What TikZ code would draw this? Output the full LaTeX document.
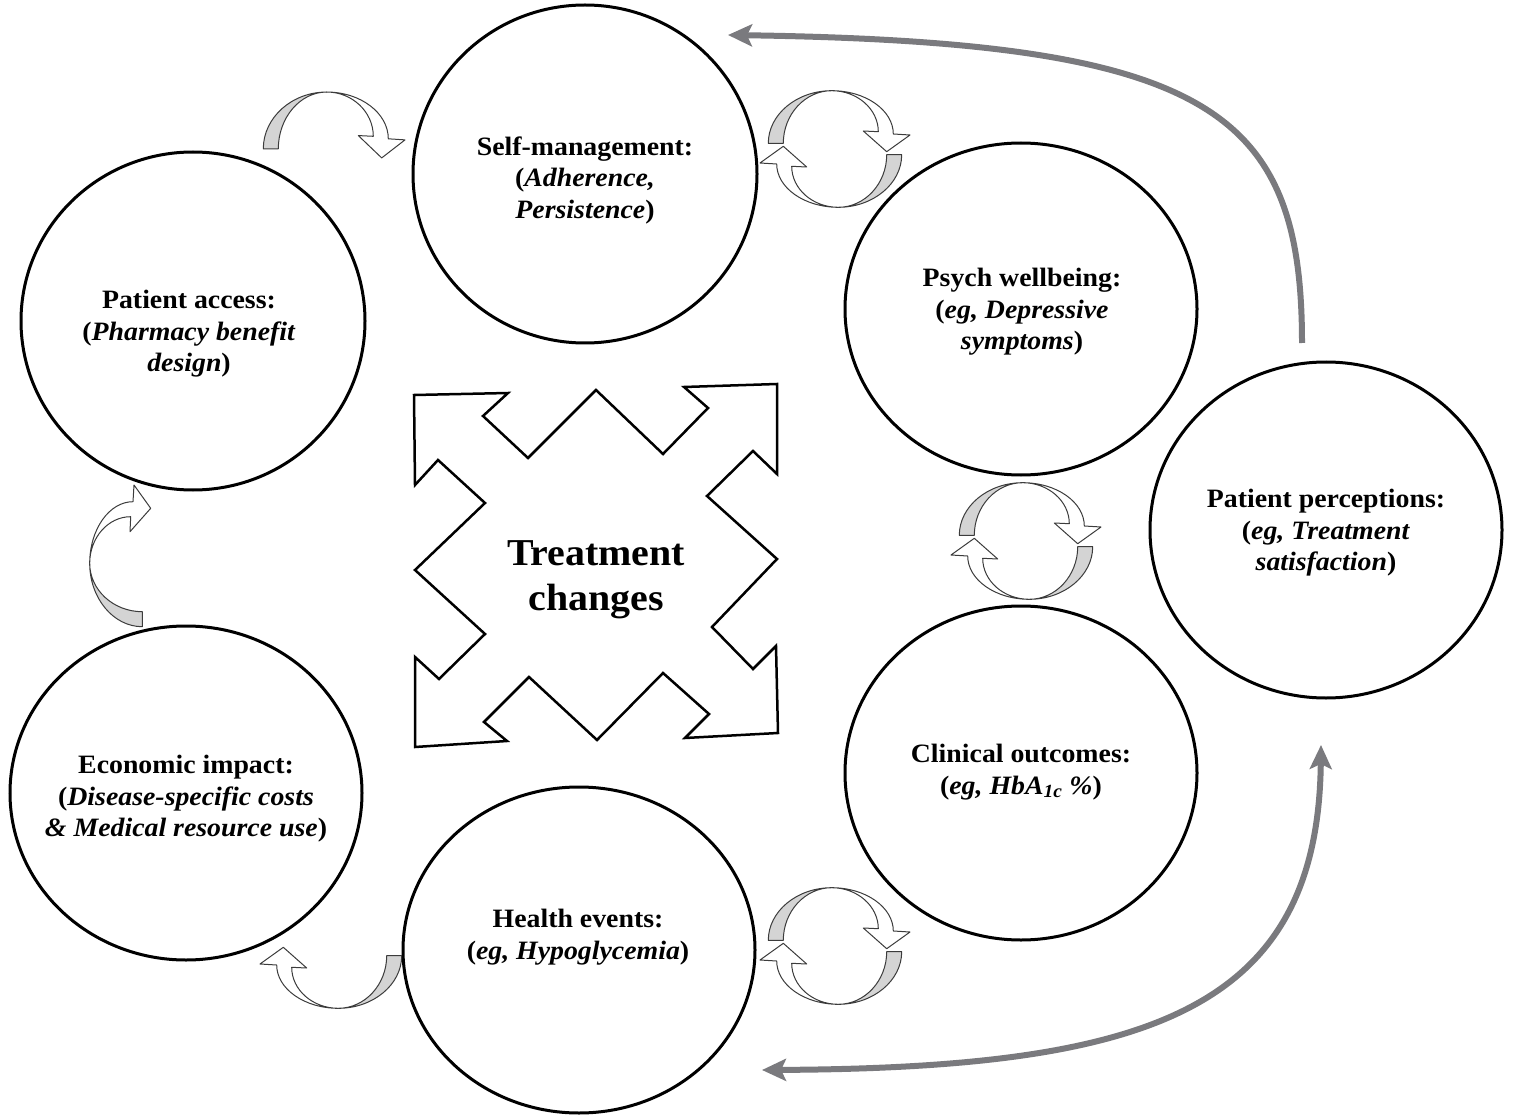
\documentclass[tikz,border=0pt]{standalone}
\usepackage{fontspec}
\setmainfont{Liberation Serif}[FakeStretch=1.05]
\usetikzlibrary{shapes.geometric,arrows.meta}
\definecolor{ribgray}{RGB}{212,212,212}
\definecolor{ribline}{RGB}{60,60,60}
\definecolor{bigarrow}{RGB}{122,122,126}
\newcommand{\bi}[1]{\textbf{\textit{#1}}}
\tikzset{
  circ/.style={ellipse, draw=black, line width=3pt, inner sep=0pt},
  lbl/.style={align=center, font=\fontsize{26.5}{31.5}\selectfont\bfseries, inner sep=0pt},
  big/.style={align=center, font=\fontsize{38}{45}\selectfont\bfseries, inner sep=0pt},
  rib/.style={draw=ribline, line width=1pt, line join=round},
  garrow/.style={draw=bigarrow, line width=6pt},
  twist/.pic={
    \draw[rib, fill=ribgray] (-66.7,-5.7) .. controls (-66.7,-34.6) and (-38.2,-58.3) .. (-3.3,-58.3)
       .. controls (-29.9,-58.3) and (-51.7,-34.6) .. (-51.7,-5.7) -- cycle;
    \draw[rib, fill=white] (-3.3,-58.3) .. controls (30.6,-58.3) and (58.3,-38.8) .. (58.3,-15)
       -- (75,-14) -- (51.7,2.7) -- (28.3,-18) -- (43.3,-17.3)
       .. controls (43.3,-39.9) and (22.3,-58.3) .. (-3.3,-58.3) -- cycle;
  }
}
\begin{document}
\begin{tikzpicture}[x=1pt,y=-1pt]
\useasboundingbox (0,0) rectangle (1513,1115);

% big gray connectors
\coordinate (gs) at (1302,343);
\coordinate (ge) at (728,35);
\draw[garrow, -{Stealth[length=24pt,width=22pt,inset=5pt]}] (gs) .. controls (1302,110) and (1210,42) .. (ge);
\coordinate (hs) at (762,1070);
\coordinate (he) at (1321,745);
\draw[garrow, {Stealth[length=24pt,width=22pt,inset=5pt]}-{Stealth[length=24pt,width=22pt,inset=5pt]}] (hs) .. controls (1150,1068) and (1318,1010) .. (he);

% ellipses
\node[circ, minimum width=344pt, minimum height=338pt] (self) at (585,174) {};
\node[circ, minimum width=344pt, minimum height=338pt] (access) at (193,321) {};
\node[circ, minimum width=352pt, minimum height=332pt] (psych) at (1021,309) {};
\node[circ, minimum width=352pt, minimum height=336pt] (perc) at (1326,530) {};
\node[circ, minimum width=352pt, minimum height=334pt] (clin) at (1021,773) {};
\node[circ, minimum width=352pt, minimum height=326pt] (health) at (579,950) {};
\node[circ, minimum width=352pt, minimum height=334pt] (econ) at (186,793) {};

% labels
\node[lbl] (selfT) at (585,180) {Self-management:\\(\bi{Adherence,}\\\bi{Persistence})};
\node[lbl] (accessT) at (189,334) {Patient access:\\(\bi{Pharmacy benefit}\\\bi{design})};
\node[lbl] (psychT) at (1022,312) {Psych wellbeing:\\(\bi{eg, Depressive}\\\bi{symptoms})};
\node[lbl] (percT) at (1326,533) {Patient perceptions:\\(\bi{eg, Treatment}\\\bi{satisfaction})};
\node[lbl] (clinT) at (1021,772) {Clinical outcomes:\\(\bi{eg, HbA\textsubscript{1c} \%})};
\node[lbl] (healthT) at (578,937) {Health events:\\(\bi{eg, Hypoglycemia})};
\node[lbl] (econT) at (186,799) {Economic impact:\\(\bi{Disease-specific costs}\\\bi{\& Medical resource use})};

% central four-way arrow
\draw[line width=2.5pt, line join=miter] (414,395) -- (508,393) -- (483,416) -- (528,458) -- (596,390)
  -- (663,454) -- (708,408) -- (684,387) -- (777,384) -- (777,474) -- (753,451) -- (707,496)
  -- (777,559) -- (712,627) -- (753,669) -- (776,646) -- (778,733) -- (685,738) -- (709,714)
  -- (663,673) -- (597,740) -- (529,677) -- (484,722) -- (507,741) -- (415,747) -- (415,657)
  -- (439,679) -- (485,634) -- (415,570) -- (485,503) -- (438,460) -- (415,485) -- cycle;
\node[big] (treat) at (596,580) {Treatment\\changes};

% circular ribbon arrows
\pic at (835,149) {twist};
\pic[rotate=180] at (835,149) {twist};
\pic at (1026,541) {twist};
\pic[rotate=180] at (1026,541) {twist};
\pic at (835,946) {twist};
\pic[rotate=180] at (835,946) {twist};
% single ribbon arrows
\pic[yscale=1.08] at (330,155) {twist};
\pic[rotate=90] at (148,560) {twist};
\pic[rotate=180] at (335,950) {twist};
\end{tikzpicture}
\end{document}
